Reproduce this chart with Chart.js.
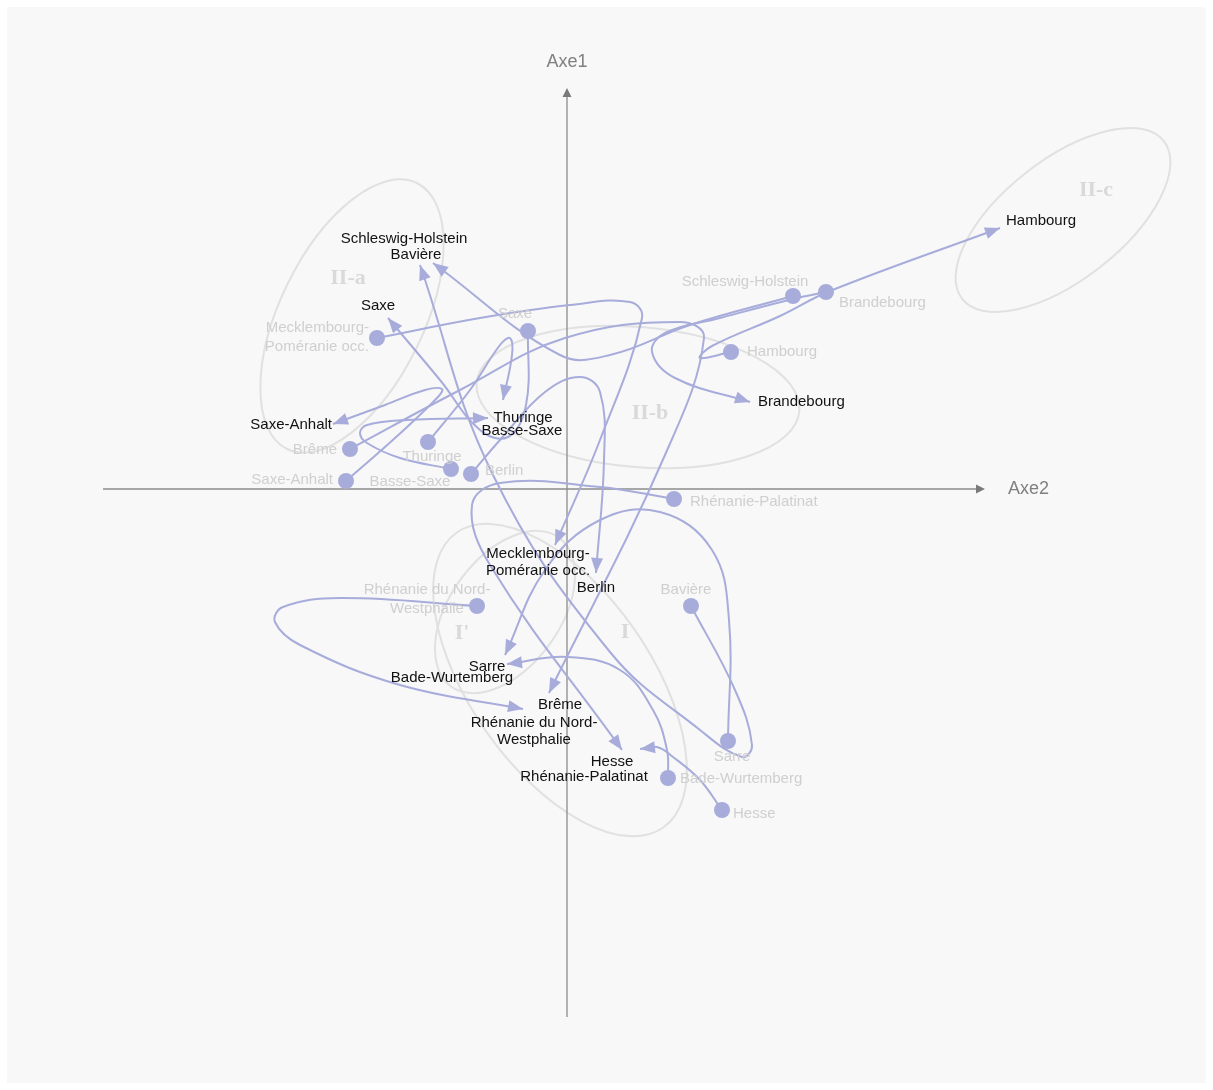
<!DOCTYPE html>
<html>
<head>
<meta charset="utf-8">
<script src="https://cdn.jsdelivr.net/npm/chart.js@4.4.1/dist/chart.umd.min.js"></script>
<style>
html, body { margin: 0; padding: 0; background: #fff; }
</style>
</head>
<body>
<canvas id="myChart" width="1213" height="1090"></canvas>
<script>
// Länder, start position (gray dot) and end position (arrow) on the factorial plane
const states = ['Schleswig-Holstein', 'Brandebourg', 'Hambourg', 'Saxe', 'Mecklembourg-Poméranie occ.',
    'Brême', 'Thuringe', 'Basse-Saxe', 'Berlin', 'Saxe-Anhalt', 'Rhénanie-Palatinat',
    'Rhénanie du Nord-Westphalie', 'Bavière', 'Sarre', 'Bade-Wurtemberg', 'Hesse']
const startX = [2.26, 2.59, 1.64, -0.39, -1.90, -2.17, -1.39, -1.16, -0.96, -2.21, 1.07, -0.90, 1.24, 1.61, 1.01, 1.55]
const startY = [1.93, 1.97, 1.37, 1.58, 1.51, 0.40, 0.47, 0.20, 0.15, 0.08, -0.10, -1.17, -1.17, -2.52, -2.89, -3.21]
const endX = [-1.34, 1.83, 4.33, -1.79, -0.12, -0.18, -0.64, -0.79, 0.29, -2.34, 0.55, -0.44, -1.47, -0.62, -0.60, 0.73]
const endY = [2.26, 0.87, 2.61, 1.71, -0.56, -2.04, 0.89, 0.71, -0.84, 0.65, -2.61, -2.20, 2.24, -1.66, -1.75, -2.60]

// bends of each trajectory between start and end
const bends = [
    [[1.23, 1.64], [0.43, 1.34], [-0.07, 1.34]],
    [[2.26, 1.90], [1.53, 1.71], [0.98, 1.56], [0.85, 1.37], [1.08, 1.11]],
    [[1.33, 1.31], [1.45, 1.43], [2.13, 1.73], [2.63, 1.98]],
    [[-0.41, 0.84], [-0.59, 0.52], [-0.87, 0.59], [-1.27, 1.09]],
    [[-0.87, 1.71], [0.03, 1.84], [0.63, 1.87], [0.75, 1.71], [0.33, 0.49]],
    [[-1.07, 0.99], [-0.02, 1.51], [1.13, 1.67], [1.37, 1.51], [0.98, 0.34]],
    [[-0.97, 0.99], [-0.67, 1.44], [-0.57, 1.51], [-0.55, 1.34]],
    [[-1.67, 0.31], [-2.00, 0.46], [-2.07, 0.56], [-2.00, 0.64], [-1.60, 0.69]],
    [[-0.67, 0.49], [-0.22, 0.97], [0.13, 1.12], [0.33, 0.97], [0.37, 0.29]],
    [[-1.72, 0.51], [-1.30, 0.91], [-1.25, 1.00], [-1.42, 0.99], [-1.82, 0.84]],
    [[0.33, 0.02], [-0.67, 0.06], [-0.95, -0.16], [-0.77, -0.76]],
    [[-2.27, -1.09], [-2.84, -1.18], [-2.92, -1.33], [-2.67, -1.56], [-1.67, -1.96]],
    [[1.68, -2.01], [1.85, -2.56], [1.75, -2.68], [1.33, -2.41], [0.43, -1.63], [-0.74, 0.14]],
    [[1.62, -1.31], [1.45, -0.61], [0.93, -0.23], [0.33, -0.31], [-0.22, -0.81]],
    [[1.00, -2.61], [0.86, -2.21], [0.53, -1.81], [0.00, -1.68]],
    [[1.33, -2.91], [1.06, -2.68], [0.90, -2.58]]
]

// groups (ellipses)
const groups = ['II-a', 'II-b', 'II-c', 'I', "I'"]
const groupCx = [-2.15, 0.71, 4.96, -0.07, -0.62]
const groupCy = [1.73, 0.92, 2.69, -1.91, -1.23]
const groupRx = [1.48, 1.62, 1.28, 1.80, 0.92]
const groupRy = [0.72, 0.70, 0.60, 0.90, 0.55]
const groupAngle = [64, -5, 38, -55, 54]
const groupLabelX = [-2.19, 0.83, 5.29, 0.58, -1.05]
const groupLabelY = [2.11, 0.76, 2.99, -1.43, -1.44]

// axes extent
const axisX = [-4.64, 4.18]
const axisY = [-5.28, 4.01]
const axisNames = ['Axe2', 'Axe1']

// label placement (pixels from the dot / arrow tip)
const startPlace = {
    'Schleswig-Holstein': [-48, -14, 'center'],
    'Brandebourg': [13, 11, 'left'],
    'Hambourg': [16, 0, 'left'],
    'Saxe': [-13, -17, 'center'],
    'Mecklembourg-Poméranie occ.': [-8, -10, 'right'],
    'Brême': [-13, 1, 'right'],
    'Thuringe': [4, 15, 'center'],
    'Basse-Saxe': [-41, 13, 'center'],
    'Berlin': [14, -3, 'left'],
    'Saxe-Anhalt': [-13, -1, 'right'],
    'Rhénanie-Palatinat': [16, 3, 'left'],
    'Rhénanie du Nord-Westphalie': [-50, -16, 'center'],
    'Bavière': [-5, -16, 'center'],
    'Sarre': [4, 16, 'center'],
    'Bade-Wurtemberg': [12, 1, 'left'],
    'Hesse': [11, 4, 'left']
}
const endPlace = {
    'Schleswig-Holstein': [-29, -24, 'center'],
    'Brandebourg': [8, 0, 'left'],
    'Hambourg': [6, -7, 'left'],
    'Saxe': [-10, -12, 'center'],
    'Mecklembourg-Poméranie occ.': [-17, 9, 'center'],
    'Brême': [11, 12, 'center'],
    'Thuringe': [20, 18, 'center'],
    'Basse-Saxe': [34, 13, 'center'],
    'Berlin': [0, 15, 'center'],
    'Saxe-Anhalt': [-1, 1, 'right'],
    'Rhénanie-Palatinat': [-38, 27, 'center'],
    'Rhénanie du Nord-Westphalie': [11, 14, 'center'],
    'Bavière': [-4, -10, 'center'],
    'Sarre': [-18, 12, 'center'],
    'Bade-Wurtemberg': [-55, 14, 'center'],
    'Hesse': [-28, 13, 'center']
}
const wrapped = {
    'Mecklembourg-Poméranie occ.': ['Mecklembourg-', 'Poméranie occ.'],
    'Rhénanie du Nord-Westphalie': ['Rhénanie du Nord-', 'Westphalie']
}

const flowColor = '#a7acdb'
const font = '"Liberation Sans", Arial, sans-serif'

// Build one line dataset per Land
const flowSets = states.map((name, i) => ({
    label: name,
    data: [{ x: startX[i], y: startY[i] }, ...bends[i].map(p => ({ x: p[0], y: p[1] })), { x: endX[i], y: endY[i] }],
    showLine: true,
    tension: 0.4,
    borderColor: flowColor,
    borderWidth: 2,
    pointRadius: 0,
    fill: false
}))

const dotSet = {
    label: 'start',
    data: states.map((n, i) => ({ x: startX[i], y: startY[i] })),
    pointRadius: 8,
    pointBackgroundColor: flowColor,
    pointBorderWidth: 0,
    showLine: false
}

const drawText = (ctx, lines, x, y, align, lh) => {
    ctx.textAlign = align
    lines.forEach((t, k) => ctx.fillText(t, x, y + k * lh))
}

// background, groups and axes
const underlay = {
    id: 'underlay',
    beforeDatasetsDraw(chart) {
        const { ctx, scales: { x, y } } = chart
        ctx.save()
        ctx.fillStyle = '#ffffff'
        ctx.fillRect(0, 0, chart.width, chart.height)
        ctx.fillStyle = '#f8f8f8'
        ctx.fillRect(7, 7, chart.width - 14, chart.height - 14)

        // group ellipses
        groups.forEach((g, i) => {
            const cx = x.getPixelForValue(groupCx[i])
            const cy = y.getPixelForValue(groupCy[i])
            const rx = x.getPixelForValue(groupCx[i] + groupRx[i]) - cx
            const ry = x.getPixelForValue(groupCx[i] + groupRy[i]) - cx
            ctx.beginPath()
            ctx.ellipse(cx, cy, rx, ry, -groupAngle[i] * Math.PI / 180, 0, Math.PI * 2)
            ctx.strokeStyle = '#e1e1e1'
            ctx.lineWidth = 2
            ctx.stroke()
            ctx.fillStyle = '#d9d9d9'
            ctx.font = 'bold 22px "Liberation Serif", "DejaVu Serif", serif'
            ctx.textAlign = 'center'
            ctx.textBaseline = 'middle'
            ctx.fillText(g, x.getPixelForValue(groupLabelX[i]), y.getPixelForValue(groupLabelY[i]))
        })

        // axes
        const x0 = x.getPixelForValue(0)
        const y0 = y.getPixelForValue(0)
        const xl = x.getPixelForValue(axisX[0]), xr = x.getPixelForValue(axisX[1])
        const yb = y.getPixelForValue(axisY[0]), yt = y.getPixelForValue(axisY[1])
        ctx.strokeStyle = '#8c8c8c'
        ctx.fillStyle = '#7a7a7a'
        ctx.lineWidth = 1.3
        ctx.beginPath()
        ctx.moveTo(xl, y0); ctx.lineTo(xr - 4, y0)
        ctx.moveTo(x0, yb); ctx.lineTo(x0, yt + 4)
        ctx.stroke()
        ctx.beginPath()
        ctx.moveTo(xr, y0); ctx.lineTo(xr - 9, y0 - 4.5); ctx.lineTo(xr - 9, y0 + 4.5); ctx.closePath()
        ctx.moveTo(x0, yt); ctx.lineTo(x0 - 4.5, yt + 9); ctx.lineTo(x0 + 4.5, yt + 9); ctx.closePath()
        ctx.fill()
        ctx.fillStyle = '#808080'
        ctx.font = '18px ' + font
        ctx.textBaseline = 'middle'
        ctx.textAlign = 'left'
        ctx.fillText(axisNames[0], xr + 23, y0)
        ctx.textAlign = 'center'
        ctx.fillText(axisNames[1], x0, yt - 26)
        ctx.restore()
    }
}

// arrowheads and labels
const overlay = {
    id: 'overlay',
    afterDatasetsDraw(chart) {
        const { ctx, scales: { x, y } } = chart
        ctx.save()
        ctx.textBaseline = 'middle'

        states.forEach((name, i) => {
            const pts = chart.getDatasetMeta(i + 1).data
            const tip = pts[pts.length - 1]
            let dx = tip.x - tip.cp1x, dy = tip.y - tip.cp1y
            if (!isFinite(dx) || Math.hypot(dx, dy) < 0.5) {
                const prev = pts[pts.length - 2]
                dx = tip.x - prev.x; dy = tip.y - prev.y
            }
            const len = Math.hypot(dx, dy)
            const ux = dx / len, uy = dy / len
            const L = 15, W = 6
            ctx.beginPath()
            ctx.moveTo(tip.x, tip.y)
            ctx.lineTo(tip.x - ux * L - uy * W, tip.y - uy * L + ux * W)
            ctx.lineTo(tip.x - ux * L + uy * W, tip.y - uy * L - ux * W)
            ctx.closePath()
            ctx.fillStyle = flowColor
            ctx.fill()
        })

        // start labels (gray) and end labels (black)
        states.forEach((name, i) => {
            const lines = wrapped[name] || [name]
            const sp = startPlace[name]
            ctx.fillStyle = '#cfcfcf'
            ctx.font = '15px ' + font
            drawText(ctx, lines, x.getPixelForValue(startX[i]) + sp[0], y.getPixelForValue(startY[i]) + sp[1], sp[2], 19)
            const ep = endPlace[name]
            ctx.fillStyle = '#111111'
            drawText(ctx, lines, x.getPixelForValue(endX[i]) + ep[0], y.getPixelForValue(endY[i]) + ep[1], ep[2], 17)
        })
        ctx.restore()
    }
}

const ctx = document.getElementById('myChart')
new Chart(ctx, {
    type: 'scatter',
    data: { datasets: [dotSet, ...flowSets] },
    options: {
        responsive: false,
        animation: false,
        layout: { padding: 0, autoPadding: false },
        scales: {
            x: { type: 'linear', min: -5.67, max: 6.46, display: false },
            y: { type: 'linear', min: -6.01, max: 4.89, display: false }
        },
        plugins: {
            legend: { display: false },
            tooltip: { enabled: false }
        }
    },
    plugins: [underlay, overlay]
})
</script>
</body>
</html>
